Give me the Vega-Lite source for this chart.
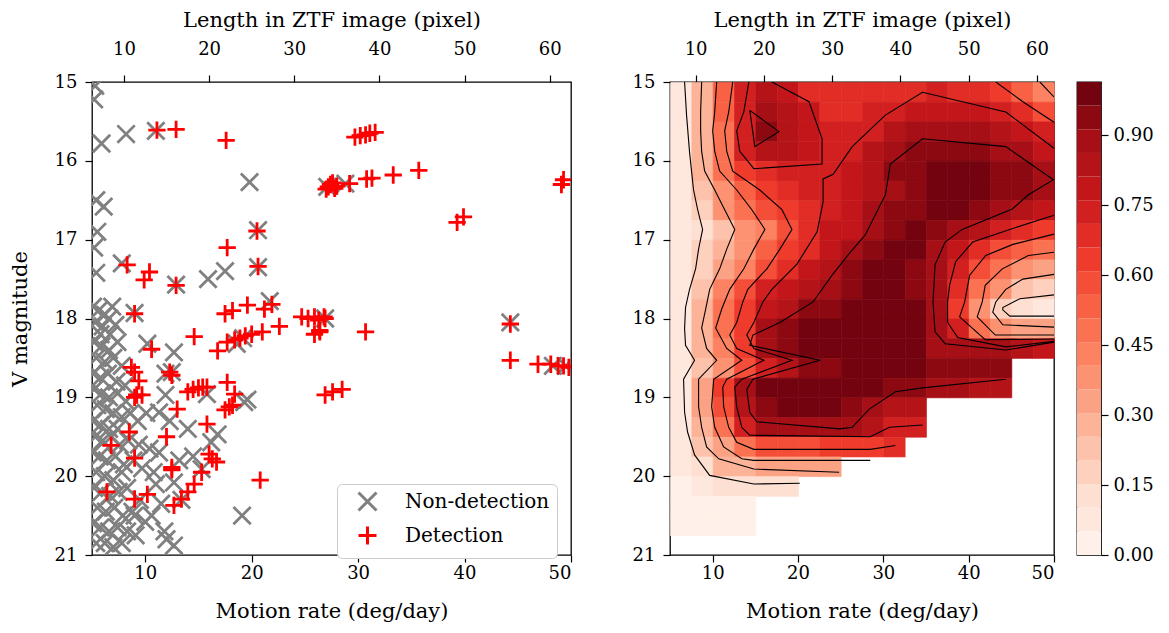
{
"$schema": "https://vega.github.io/schema/vega-lite/v6.json",
"background": "white",
"padding": {"left": 8, "top": 8, "right": 6, "bottom": 6},
"config": {
 "font": "DejaVu Serif",
 "view": {"stroke": "black", "strokeWidth": 1.3},
 "axis": {"domain": false, "grid": false, "tickColor": "black", "tickSize": 7, "tickWidth": 1.2, "labelFontSize": 18, "labelColor": "black", "labelFont": "DejaVu Serif", "titleFont": "DejaVu Serif", "titleFontSize": 21, "titleFontWeight": "normal", "titleColor": "black", "labelPadding": 2, "titlePadding": 18},
 "axisLeft": {"labelPadding": 8, "titlePadding": 24},
 "axisTop": {"labelPadding": 17, "titlePadding": 10},
 "axisRight": {"labelPadding": 5}
},
"resolve": {"scale": {"color": "independent", "shape": "independent", "stroke": "independent"}},
"spacing": 58,
"hconcat": [
{
 "width": 479, "height": 473,
 "layer": [
  {"data": {"values": [{"len": 6.25}, {"len": 62.5}]},
   "mark": {"type": "rule", "opacity": 0},
   "encoding": {"x": {"field": "len", "type": "quantitative", "scale": {"domain": [6.25, 62.5], "nice": false, "zero": false}, "axis": {"orient": "top", "values": [10,20,30,40,50,60], "format": "d", "title": "Length in ZTF image (pixel)"}}}},
  {"data": {"values": [
{"rate":5.3,"mag":15.05,"type":"Non-detection"},{"rate":5.2,"mag":15.22,"type":"Non-detection"},{"rate":5.9,"mag":15.78,"type":"Non-detection"},{"rate":8.2,"mag":15.66,"type":"Non-detection"},{"rate":11.0,"mag":15.62,"type":"Non-detection"},{"rate":19.8,"mag":16.27,"type":"Non-detection"},{"rate":27.1,"mag":16.33,"type":"Non-detection"},{"rate":28.8,"mag":16.29,"type":"Non-detection"},{"rate":5.4,"mag":16.5,"type":"Non-detection"},{"rate":6.1,"mag":16.58,"type":"Non-detection"},
{"rate":5.5,"mag":16.9,"type":"Non-detection"},{"rate":5.2,"mag":17.1,"type":"Non-detection"},{"rate":5.4,"mag":17.42,"type":"Non-detection"},{"rate":7.8,"mag":17.3,"type":"Non-detection"},{"rate":17.5,"mag":17.4,"type":"Non-detection"},{"rate":15.9,"mag":17.5,"type":"Non-detection"},{"rate":20.6,"mag":16.88,"type":"Non-detection"},{"rate":20.6,"mag":17.35,"type":"Non-detection"},{"rate":12.9,"mag":17.57,"type":"Non-detection"},{"rate":9.0,"mag":17.93,"type":"Non-detection"},
{"rate":5.1,"mag":17.85,"type":"Non-detection"},{"rate":5.6,"mag":17.9,"type":"Non-detection"},{"rate":6.2,"mag":17.95,"type":"Non-detection"},{"rate":6.9,"mag":17.85,"type":"Non-detection"},{"rate":5.3,"mag":18.05,"type":"Non-detection"},{"rate":6.0,"mag":18.1,"type":"Non-detection"},{"rate":6.6,"mag":18.0,"type":"Non-detection"},{"rate":7.2,"mag":18.08,"type":"Non-detection"},{"rate":5.8,"mag":18.2,"type":"Non-detection"},{"rate":6.7,"mag":18.2,"type":"Non-detection"},
{"rate":5.2,"mag":18.3,"type":"Non-detection"},{"rate":5.9,"mag":18.35,"type":"Non-detection"},{"rate":6.6,"mag":18.4,"type":"Non-detection"},{"rate":7.4,"mag":18.3,"type":"Non-detection"},{"rate":5.4,"mag":18.5,"type":"Non-detection"},{"rate":6.2,"mag":18.55,"type":"Non-detection"},{"rate":7.0,"mag":18.5,"type":"Non-detection"},{"rate":7.8,"mag":18.6,"type":"Non-detection"},{"rate":5.1,"mag":18.7,"type":"Non-detection"},{"rate":5.8,"mag":18.75,"type":"Non-detection"},
{"rate":6.5,"mag":18.7,"type":"Non-detection"},{"rate":7.3,"mag":18.8,"type":"Non-detection"},{"rate":8.1,"mag":18.85,"type":"Non-detection"},{"rate":5.2,"mag":18.9,"type":"Non-detection"},{"rate":5.9,"mag":18.95,"type":"Non-detection"},{"rate":6.6,"mag":19.0,"type":"Non-detection"},{"rate":7.4,"mag":18.95,"type":"Non-detection"},{"rate":8.2,"mag":19.05,"type":"Non-detection"},{"rate":5.5,"mag":19.1,"type":"Non-detection"},{"rate":6.3,"mag":19.15,"type":"Non-detection"},
{"rate":7.0,"mag":19.2,"type":"Non-detection"},{"rate":7.8,"mag":19.25,"type":"Non-detection"},{"rate":8.6,"mag":19.2,"type":"Non-detection"},{"rate":5.1,"mag":19.3,"type":"Non-detection"},{"rate":5.8,"mag":19.35,"type":"Non-detection"},{"rate":6.6,"mag":19.4,"type":"Non-detection"},{"rate":7.4,"mag":19.4,"type":"Non-detection"},{"rate":9.3,"mag":19.3,"type":"Non-detection"},{"rate":10.1,"mag":19.2,"type":"Non-detection"},{"rate":5.3,"mag":19.5,"type":"Non-detection"},
{"rate":6.0,"mag":19.55,"type":"Non-detection"},{"rate":6.8,"mag":19.5,"type":"Non-detection"},{"rate":7.6,"mag":19.6,"type":"Non-detection"},{"rate":8.4,"mag":19.55,"type":"Non-detection"},{"rate":9.4,"mag":19.6,"type":"Non-detection"},{"rate":10.4,"mag":19.65,"type":"Non-detection"},{"rate":5.1,"mag":19.7,"type":"Non-detection"},{"rate":5.7,"mag":19.75,"type":"Non-detection"},{"rate":6.4,"mag":19.8,"type":"Non-detection"},{"rate":7.2,"mag":19.75,"type":"Non-detection"},
{"rate":8.0,"mag":19.85,"type":"Non-detection"},{"rate":8.9,"mag":19.8,"type":"Non-detection"},{"rate":9.7,"mag":19.9,"type":"Non-detection"},{"rate":5.4,"mag":19.95,"type":"Non-detection"},{"rate":6.2,"mag":20.0,"type":"Non-detection"},{"rate":7.0,"mag":20.05,"type":"Non-detection"},{"rate":7.8,"mag":19.95,"type":"Non-detection"},{"rate":10.8,"mag":19.95,"type":"Non-detection"},{"rate":11.3,"mag":19.7,"type":"Non-detection"},{"rate":5.2,"mag":20.15,"type":"Non-detection"},
{"rate":5.9,"mag":20.2,"type":"Non-detection"},{"rate":6.7,"mag":20.25,"type":"Non-detection"},{"rate":7.5,"mag":20.2,"type":"Non-detection"},{"rate":8.3,"mag":20.15,"type":"Non-detection"},{"rate":9.5,"mag":20.3,"type":"Non-detection"},{"rate":5.5,"mag":20.4,"type":"Non-detection"},{"rate":6.3,"mag":20.45,"type":"Non-detection"},{"rate":7.1,"mag":20.4,"type":"Non-detection"},{"rate":7.9,"mag":20.5,"type":"Non-detection"},{"rate":8.8,"mag":20.45,"type":"Non-detection"},
{"rate":10.0,"mag":20.58,"type":"Non-detection"},{"rate":5.1,"mag":20.6,"type":"Non-detection"},{"rate":5.8,"mag":20.65,"type":"Non-detection"},{"rate":6.6,"mag":20.7,"type":"Non-detection"},{"rate":7.4,"mag":20.65,"type":"Non-detection"},{"rate":8.3,"mag":20.7,"type":"Non-detection"},{"rate":9.1,"mag":20.75,"type":"Non-detection"},{"rate":5.4,"mag":20.85,"type":"Non-detection"},{"rate":6.2,"mag":20.85,"type":"Non-detection"},{"rate":7.0,"mag":20.9,"type":"Non-detection"},
{"rate":7.8,"mag":20.85,"type":"Non-detection"},{"rate":12.0,"mag":20.8,"type":"Non-detection"},{"rate":11.8,"mag":20.7,"type":"Non-detection"},{"rate":12.7,"mag":20.88,"type":"Non-detection"},{"rate":10.6,"mag":20.5,"type":"Non-detection"},{"rate":9.0,"mag":20.5,"type":"Non-detection"},{"rate":12.7,"mag":20.08,"type":"Non-detection"},{"rate":13.4,"mag":20.3,"type":"Non-detection"},{"rate":19.1,"mag":20.5,"type":"Non-detection"},{"rate":14.0,"mag":19.4,"type":"Non-detection"},
{"rate":16.8,"mag":19.47,"type":"Non-detection"},{"rate":19.3,"mag":19.06,"type":"Non-detection"},{"rate":19.6,"mag":19.03,"type":"Non-detection"},{"rate":15.8,"mag":18.96,"type":"Non-detection"},{"rate":11.9,"mag":18.97,"type":"Non-detection"},{"rate":11.3,"mag":19.19,"type":"Non-detection"},{"rate":16.2,"mag":19.57,"type":"Non-detection"},{"rate":15.3,"mag":19.91,"type":"Non-detection"},{"rate":11.9,"mag":18.7,"type":"Non-detection"},{"rate":12.5,"mag":18.68,"type":"Non-detection"},
{"rate":12.7,"mag":18.43,"type":"Non-detection"},{"rate":10.2,"mag":18.32,"type":"Non-detection"},{"rate":19.2,"mag":18.25,"type":"Non-detection"},{"rate":18.6,"mag":18.32,"type":"Non-detection"},{"rate":21.7,"mag":17.78,"type":"Non-detection"},{"rate":26.9,"mag":18.0,"type":"Non-detection"},{"rate":44.3,"mag":18.05,"type":"Non-detection"},{"rate":48.3,"mag":18.6,"type":"Non-detection"},{"rate":49.5,"mag":18.6,"type":"Non-detection"},{"rate":12.3,"mag":19.3,"type":"Non-detection"},
{"rate":13.2,"mag":19.8,"type":"Non-detection"},{"rate":11.0,"mag":20.1,"type":"Non-detection"},{"rate":11.5,"mag":20.35,"type":"Non-detection"},{"rate":14.5,"mag":19.75,"type":"Non-detection"},
{"rate":11.1,"mag":15.61,"type":"Detection"},{"rate":12.9,"mag":15.6,"type":"Detection"},{"rate":17.6,"mag":15.74,"type":"Detection"},{"rate":27.2,"mag":16.33,"type":"Detection"},{"rate":27.4,"mag":16.3,"type":"Detection"},{"rate":27.8,"mag":16.35,"type":"Detection"},{"rate":27.6,"mag":16.28,"type":"Detection"},{"rate":28.0,"mag":16.32,"type":"Detection"},{"rate":27.0,"mag":16.36,"type":"Detection"},{"rate":29.2,"mag":16.29,"type":"Detection"},
{"rate":30.8,"mag":16.23,"type":"Detection"},{"rate":31.3,"mag":16.22,"type":"Detection"},{"rate":33.3,"mag":16.18,"type":"Detection"},{"rate":35.7,"mag":16.12,"type":"Detection"},{"rate":29.7,"mag":15.7,"type":"Detection"},{"rate":30.2,"mag":15.68,"type":"Detection"},{"rate":30.7,"mag":15.67,"type":"Detection"},{"rate":31.1,"mag":15.65,"type":"Detection"},{"rate":31.6,"mag":15.64,"type":"Detection"},{"rate":20.5,"mag":16.89,"type":"Detection"},
{"rate":17.7,"mag":17.1,"type":"Detection"},{"rate":20.6,"mag":17.34,"type":"Detection"},{"rate":8.3,"mag":17.32,"type":"Detection"},{"rate":9.9,"mag":17.51,"type":"Detection"},{"rate":10.4,"mag":17.41,"type":"Detection"},{"rate":12.9,"mag":17.58,"type":"Detection"},{"rate":39.3,"mag":16.78,"type":"Detection"},{"rate":39.9,"mag":16.71,"type":"Detection"},{"rate":49.1,"mag":16.3,"type":"Detection"},{"rate":49.3,"mag":16.24,"type":"Detection"},
{"rate":9.0,"mag":17.94,"type":"Detection"},{"rate":17.5,"mag":17.94,"type":"Detection"},{"rate":18.2,"mag":17.9,"type":"Detection"},{"rate":19.6,"mag":17.83,"type":"Detection"},{"rate":21.2,"mag":17.88,"type":"Detection"},{"rate":21.9,"mag":17.82,"type":"Detection"},{"rate":24.7,"mag":17.98,"type":"Detection"},{"rate":25.3,"mag":18.0,"type":"Detection"},{"rate":25.9,"mag":17.98,"type":"Detection"},{"rate":26.3,"mag":18.02,"type":"Detection"},
{"rate":26.8,"mag":17.98,"type":"Detection"},{"rate":25.9,"mag":18.2,"type":"Detection"},{"rate":26.4,"mag":18.15,"type":"Detection"},{"rate":22.6,"mag":18.1,"type":"Detection"},{"rate":21.0,"mag":18.17,"type":"Detection"},{"rate":14.6,"mag":18.23,"type":"Detection"},{"rate":10.6,"mag":18.39,"type":"Detection"},{"rate":16.8,"mag":18.41,"type":"Detection"},{"rate":17.7,"mag":18.3,"type":"Detection"},{"rate":18.4,"mag":18.27,"type":"Detection"},
{"rate":18.9,"mag":18.25,"type":"Detection"},{"rate":19.4,"mag":18.22,"type":"Detection"},{"rate":20.0,"mag":18.2,"type":"Detection"},{"rate":8.7,"mag":18.62,"type":"Detection"},{"rate":9.0,"mag":18.68,"type":"Detection"},{"rate":9.4,"mag":18.79,"type":"Detection"},{"rate":12.5,"mag":18.72,"type":"Detection"},{"rate":12.3,"mag":18.68,"type":"Detection"},{"rate":14.0,"mag":18.93,"type":"Detection"},{"rate":14.5,"mag":18.9,"type":"Detection"},
{"rate":15.0,"mag":18.88,"type":"Detection"},{"rate":15.4,"mag":18.87,"type":"Detection"},{"rate":15.8,"mag":18.87,"type":"Detection"},{"rate":17.7,"mag":18.81,"type":"Detection"},{"rate":18.4,"mag":18.96,"type":"Detection"},{"rate":17.5,"mag":19.16,"type":"Detection"},{"rate":17.9,"mag":19.12,"type":"Detection"},{"rate":18.2,"mag":19.1,"type":"Detection"},{"rate":9.0,"mag":19.0,"type":"Detection"},{"rate":9.2,"mag":18.97,"type":"Detection"},
{"rate":9.7,"mag":18.97,"type":"Detection"},{"rate":13.0,"mag":19.15,"type":"Detection"},{"rate":8.5,"mag":19.44,"type":"Detection"},{"rate":6.8,"mag":19.61,"type":"Detection"},{"rate":9.0,"mag":19.77,"type":"Detection"},{"rate":12.0,"mag":19.5,"type":"Detection"},{"rate":15.8,"mag":19.34,"type":"Detection"},{"rate":16.0,"mag":19.72,"type":"Detection"},{"rate":16.3,"mag":19.78,"type":"Detection"},{"rate":16.7,"mag":19.82,"type":"Detection"},
{"rate":12.5,"mag":19.89,"type":"Detection"},{"rate":12.5,"mag":19.92,"type":"Detection"},{"rate":15.3,"mag":19.95,"type":"Detection"},{"rate":14.6,"mag":20.1,"type":"Detection"},{"rate":14.0,"mag":20.2,"type":"Detection"},{"rate":13.4,"mag":20.29,"type":"Detection"},{"rate":12.7,"mag":20.37,"type":"Detection"},{"rate":20.8,"mag":20.05,"type":"Detection"},{"rate":6.4,"mag":20.2,"type":"Detection"},{"rate":9.0,"mag":20.29,"type":"Detection"},
{"rate":10.2,"mag":20.23,"type":"Detection"},{"rate":26.9,"mag":18.0,"type":"Detection"},{"rate":26.4,"mag":18.17,"type":"Detection"},{"rate":30.7,"mag":18.17,"type":"Detection"},{"rate":26.9,"mag":18.97,"type":"Detection"},{"rate":27.6,"mag":18.93,"type":"Detection"},{"rate":28.5,"mag":18.9,"type":"Detection"},{"rate":44.3,"mag":18.07,"type":"Detection"},{"rate":44.3,"mag":18.53,"type":"Detection"},{"rate":46.9,"mag":18.58,"type":"Detection"},
{"rate":48.1,"mag":18.58,"type":"Detection"},{"rate":48.8,"mag":18.6,"type":"Detection"},{"rate":49.3,"mag":18.6,"type":"Detection"},{"rate":49.8,"mag":18.62,"type":"Detection"}
  ]},
   "mark": {"type": "point", "filled": false, "strokeWidth": 2.8, "size": 300, "opacity": 1, "clip": true},
   "encoding": {
    "x": {"field": "rate", "type": "quantitative", "scale": {"domain": [5, 50], "nice": false, "zero": false}, "axis": {"values": [10,20,30,40,50], "format": "d", "title": "Motion rate (deg/day)"}},
    "y": {"field": "mag", "type": "quantitative", "scale": {"domain": [15, 21], "reverse": true, "nice": false, "zero": false}, "axis": {"values": [15,16,17,18,19,20,21], "format": "d", "title": "V magnitude"}},
    "color": {"field": "type", "type": "nominal", "scale": {"domain": ["Non-detection", "Detection"], "range": ["#808080", "#ff0000"]},
      "legend": {"title": null, "orient": "none", "legendX": 245, "legendY": 402, "fillColor": "white", "strokeColor": "#cccccc", "cornerRadius": 5, "padding": 7, "labelFontSize": 20, "labelFont": "DejaVu Serif", "labelColor": "black", "symbolSize": 324, "symbolStrokeWidth": 3, "symbolOffset": 13, "labelOffset": 27, "rowPadding": 3}},
    "shape": {"field": "type", "type": "nominal", "scale": {"domain": ["Non-detection", "Detection"], "range": ["M-1,-1L1,1M-1,1L1,-1", "M-1,0L1,0M0,-1L0,1"]},
      "legend": {"title": null, "orient": "none", "legendX": 245, "legendY": 402, "fillColor": "white", "strokeColor": "#cccccc", "cornerRadius": 5, "padding": 7, "labelFontSize": 20, "labelFont": "DejaVu Serif", "labelColor": "black", "symbolSize": 324, "symbolStrokeWidth": 3, "symbolOffset": 13, "labelOffset": 27, "rowPadding": 3}}
   }}
 ],
 "resolve": {"scale": {"x": "independent"}, "axis": {"x": "independent"}}
},
{
 "spacing": 20,
 "hconcat": [
 {
  "width": 384, "height": 473,
  "layer": [
   {"data": {"values": [{"len": 6.25}, {"len": 62.5}]},
    "mark": {"type": "rule", "opacity": 0},
    "encoding": {"x": {"field": "len", "type": "quantitative", "scale": {"domain": [6.25, 62.5], "nice": false, "zero": false}, "axis": {"orient": "top", "values": [10,20,30,40,50,60], "format": "d", "title": "Length in ZTF image (pixel)"}}}},
   {"layer": [
   {"data": {"values": [
{"x":5,"y":15,"v":0.08},{"x":7.5,"y":15,"v":0.30},{"x":10,"y":15,"v":0.52},{"x":12.5,"y":15,"v":0.72},{"x":15,"y":15,"v":0.82},{"x":17.5,"y":15,"v":0.77},{"x":20,"y":15,"v":0.70},{"x":22.5,"y":15,"v":0.68},{"x":25,"y":15,"v":0.66},{"x":27.5,"y":15,"v":0.68},{"x":30,"y":15,"v":0.69},{"x":32.5,"y":15,"v":0.70},{"x":35,"y":15,"v":0.72},{"x":37.5,"y":15,"v":0.70},{"x":40,"y":15,"v":0.69},{"x":42.5,"y":15,"v":0.62},{"x":45,"y":15,"v":0.52},{"x":47.5,"y":15,"v":0.43},
{"x":5,"y":15.25,"v":0.08},{"x":7.5,"y":15.25,"v":0.30},{"x":10,"y":15.25,"v":0.52},{"x":12.5,"y":15.25,"v":0.73},{"x":15,"y":15.25,"v":0.90},{"x":17.5,"y":15.25,"v":0.83},{"x":20,"y":15.25,"v":0.77},{"x":22.5,"y":15.25,"v":0.70},{"x":25,"y":15.25,"v":0.69},{"x":27.5,"y":15.25,"v":0.71},{"x":30,"y":15.25,"v":0.75},{"x":32.5,"y":15.25,"v":0.78},{"x":35,"y":15.25,"v":0.79},{"x":37.5,"y":15.25,"v":0.79},{"x":40,"y":15.25,"v":0.78},{"x":42.5,"y":15.25,"v":0.76},{"x":45,"y":15.25,"v":0.68},{"x":47.5,"y":15.25,"v":0.60},
{"x":5,"y":15.5,"v":0.08},{"x":7.5,"y":15.5,"v":0.30},{"x":10,"y":15.5,"v":0.50},{"x":12.5,"y":15.5,"v":0.76},{"x":15,"y":15.5,"v":0.96},{"x":17.5,"y":15.5,"v":0.86},{"x":20,"y":15.5,"v":0.80},{"x":22.5,"y":15.5,"v":0.72},{"x":25,"y":15.5,"v":0.72},{"x":27.5,"y":15.5,"v":0.76},{"x":30,"y":15.5,"v":0.82},{"x":32.5,"y":15.5,"v":0.87},{"x":35,"y":15.5,"v":0.90},{"x":37.5,"y":15.5,"v":0.88},{"x":40,"y":15.5,"v":0.87},{"x":42.5,"y":15.5,"v":0.86},{"x":45,"y":15.5,"v":0.78},{"x":47.5,"y":15.5,"v":0.74},
{"x":5,"y":15.75,"v":0.08},{"x":7.5,"y":15.75,"v":0.30},{"x":10,"y":15.75,"v":0.50},{"x":12.5,"y":15.75,"v":0.73},{"x":15,"y":15.75,"v":0.84},{"x":17.5,"y":15.75,"v":0.84},{"x":20,"y":15.75,"v":0.80},{"x":22.5,"y":15.75,"v":0.74},{"x":25,"y":15.75,"v":0.76},{"x":27.5,"y":15.75,"v":0.82},{"x":30,"y":15.75,"v":0.88},{"x":32.5,"y":15.75,"v":0.92},{"x":35,"y":15.75,"v":0.93},{"x":37.5,"y":15.75,"v":0.93},{"x":40,"y":15.75,"v":0.93},{"x":42.5,"y":15.75,"v":0.91},{"x":45,"y":15.75,"v":0.87},{"x":47.5,"y":15.75,"v":0.80},
{"x":5,"y":16,"v":0.08},{"x":7.5,"y":16,"v":0.28},{"x":10,"y":16,"v":0.47},{"x":12.5,"y":16,"v":0.63},{"x":15,"y":16,"v":0.70},{"x":17.5,"y":16,"v":0.72},{"x":20,"y":16,"v":0.73},{"x":22.5,"y":16,"v":0.75},{"x":25,"y":16,"v":0.80},{"x":27.5,"y":16,"v":0.85},{"x":30,"y":16,"v":0.92},{"x":32.5,"y":16,"v":0.96},{"x":35,"y":16,"v":0.97},{"x":37.5,"y":16,"v":0.97},{"x":40,"y":16,"v":0.97},{"x":42.5,"y":16,"v":0.96},{"x":45,"y":16,"v":0.93},{"x":47.5,"y":16,"v":0.87},
{"x":5,"y":16.25,"v":0.07},{"x":7.5,"y":16.25,"v":0.24},{"x":10,"y":16.25,"v":0.40},{"x":12.5,"y":16.25,"v":0.55},{"x":15,"y":16.25,"v":0.63},{"x":17.5,"y":16.25,"v":0.70},{"x":20,"y":16.25,"v":0.72},{"x":22.5,"y":16.25,"v":0.74},{"x":25,"y":16.25,"v":0.78},{"x":27.5,"y":16.25,"v":0.84},{"x":30,"y":16.25,"v":0.90},{"x":32.5,"y":16.25,"v":0.95},{"x":35,"y":16.25,"v":0.97},{"x":37.5,"y":16.25,"v":0.97},{"x":40,"y":16.25,"v":0.97},{"x":42.5,"y":16.25,"v":0.96},{"x":45,"y":16.25,"v":0.93},{"x":47.5,"y":16.25,"v":0.88},
{"x":5,"y":16.5,"v":0.07},{"x":7.5,"y":16.5,"v":0.20},{"x":10,"y":16.5,"v":0.36},{"x":12.5,"y":16.5,"v":0.49},{"x":15,"y":16.5,"v":0.57},{"x":17.5,"y":16.5,"v":0.62},{"x":20,"y":16.5,"v":0.68},{"x":22.5,"y":16.5,"v":0.76},{"x":25,"y":16.5,"v":0.78},{"x":27.5,"y":16.5,"v":0.88},{"x":30,"y":16.5,"v":0.92},{"x":32.5,"y":16.5,"v":0.95},{"x":35,"y":16.5,"v":0.97},{"x":37.5,"y":16.5,"v":0.97},{"x":40,"y":16.5,"v":0.95},{"x":42.5,"y":16.5,"v":0.91},{"x":45,"y":16.5,"v":0.86},{"x":47.5,"y":16.5,"v":0.78},
{"x":5,"y":16.75,"v":0.06},{"x":7.5,"y":16.75,"v":0.15},{"x":10,"y":16.75,"v":0.25},{"x":12.5,"y":16.75,"v":0.36},{"x":15,"y":16.75,"v":0.45},{"x":17.5,"y":16.75,"v":0.57},{"x":20,"y":16.75,"v":0.68},{"x":22.5,"y":16.75,"v":0.78},{"x":25,"y":16.75,"v":0.80},{"x":27.5,"y":16.75,"v":0.90},{"x":30,"y":16.75,"v":0.95},{"x":32.5,"y":16.75,"v":0.97},{"x":35,"y":16.75,"v":0.95},{"x":37.5,"y":16.75,"v":0.90},{"x":40,"y":16.75,"v":0.84},{"x":42.5,"y":16.75,"v":0.76},{"x":45,"y":16.75,"v":0.69},{"x":47.5,"y":16.75,"v":0.63},
{"x":5,"y":17,"v":0.06},{"x":7.5,"y":17,"v":0.16},{"x":10,"y":17,"v":0.28},{"x":12.5,"y":17,"v":0.40},{"x":15,"y":17,"v":0.52},{"x":17.5,"y":17,"v":0.62},{"x":20,"y":17,"v":0.70},{"x":22.5,"y":17,"v":0.80},{"x":25,"y":17,"v":0.88},{"x":27.5,"y":17,"v":0.94},{"x":30,"y":17,"v":0.97},{"x":32.5,"y":17,"v":0.97},{"x":35,"y":17,"v":0.90},{"x":37.5,"y":17,"v":0.78},{"x":40,"y":17,"v":0.68},{"x":42.5,"y":17,"v":0.60},{"x":45,"y":17,"v":0.52},{"x":47.5,"y":17,"v":0.47},
{"x":5,"y":17.25,"v":0.06},{"x":7.5,"y":17.25,"v":0.17},{"x":10,"y":17.25,"v":0.32},{"x":12.5,"y":17.25,"v":0.45},{"x":15,"y":17.25,"v":0.60},{"x":17.5,"y":17.25,"v":0.70},{"x":20,"y":17.25,"v":0.78},{"x":22.5,"y":17.25,"v":0.84},{"x":25,"y":17.25,"v":0.93},{"x":27.5,"y":17.25,"v":0.97},{"x":30,"y":17.25,"v":0.97},{"x":32.5,"y":17.25,"v":0.96},{"x":35,"y":17.25,"v":0.90},{"x":37.5,"y":17.25,"v":0.76},{"x":40,"y":17.25,"v":0.60},{"x":42.5,"y":17.25,"v":0.46},{"x":45,"y":17.25,"v":0.38},{"x":47.5,"y":17.25,"v":0.33},
{"x":5,"y":17.5,"v":0.07},{"x":7.5,"y":17.5,"v":0.22},{"x":10,"y":17.5,"v":0.41},{"x":12.5,"y":17.5,"v":0.57},{"x":15,"y":17.5,"v":0.71},{"x":17.5,"y":17.5,"v":0.80},{"x":20,"y":17.5,"v":0.86},{"x":22.5,"y":17.5,"v":0.91},{"x":25,"y":17.5,"v":0.96},{"x":27.5,"y":17.5,"v":0.97},{"x":30,"y":17.5,"v":0.97},{"x":32.5,"y":17.5,"v":0.96},{"x":35,"y":17.5,"v":0.90},{"x":37.5,"y":17.5,"v":0.68},{"x":40,"y":17.5,"v":0.50},{"x":42.5,"y":17.5,"v":0.36},{"x":45,"y":17.5,"v":0.25},{"x":47.5,"y":17.5,"v":0.17},
{"x":5,"y":17.75,"v":0.08},{"x":7.5,"y":17.75,"v":0.27},{"x":10,"y":17.75,"v":0.46},{"x":12.5,"y":17.75,"v":0.63},{"x":15,"y":17.75,"v":0.78},{"x":17.5,"y":17.75,"v":0.84},{"x":20,"y":17.75,"v":0.92},{"x":22.5,"y":17.75,"v":0.96},{"x":25,"y":17.75,"v":0.97},{"x":27.5,"y":17.75,"v":0.97},{"x":30,"y":17.75,"v":0.97},{"x":32.5,"y":17.75,"v":0.97},{"x":35,"y":17.75,"v":0.88},{"x":37.5,"y":17.75,"v":0.64},{"x":40,"y":17.75,"v":0.40},{"x":42.5,"y":17.75,"v":0.20},{"x":45,"y":17.75,"v":0.11},{"x":47.5,"y":17.75,"v":0.09},
{"x":5,"y":18,"v":0.09},{"x":7.5,"y":18,"v":0.30},{"x":10,"y":18,"v":0.48},{"x":12.5,"y":18,"v":0.65},{"x":15,"y":18,"v":0.89},{"x":17.5,"y":18,"v":0.96},{"x":20,"y":18,"v":0.97},{"x":22.5,"y":18,"v":0.97},{"x":25,"y":18,"v":0.97},{"x":27.5,"y":18,"v":0.97},{"x":30,"y":18,"v":0.97},{"x":32.5,"y":18,"v":0.97},{"x":35,"y":18,"v":0.90},{"x":37.5,"y":18,"v":0.72},{"x":40,"y":18,"v":0.50},{"x":42.5,"y":18,"v":0.38},{"x":45,"y":18,"v":0.33},{"x":47.5,"y":18,"v":0.32},
{"x":5,"y":18.25,"v":0.09},{"x":7.5,"y":18.25,"v":0.27},{"x":10,"y":18.25,"v":0.45},{"x":12.5,"y":18.25,"v":0.62},{"x":15,"y":18.25,"v":0.88},{"x":17.5,"y":18.25,"v":0.95},{"x":20,"y":18.25,"v":0.97},{"x":22.5,"y":18.25,"v":0.97},{"x":25,"y":18.25,"v":0.97},{"x":27.5,"y":18.25,"v":0.97},{"x":30,"y":18.25,"v":0.97},{"x":32.5,"y":18.25,"v":0.97},{"x":35,"y":18.25,"v":0.90},{"x":37.5,"y":18.25,"v":0.88},{"x":40,"y":18.25,"v":0.87},{"x":42.5,"y":18.25,"v":0.87},{"x":45,"y":18.25,"v":0.85},{"x":47.5,"y":18.25,"v":0.80},
{"x":5,"y":18.5,"v":0.08},{"x":7.5,"y":18.5,"v":0.25},{"x":10,"y":18.5,"v":0.39},{"x":12.5,"y":18.5,"v":0.56},{"x":15,"y":18.5,"v":0.72},{"x":17.5,"y":18.5,"v":0.86},{"x":20,"y":18.5,"v":0.93},{"x":22.5,"y":18.5,"v":0.96},{"x":25,"y":18.5,"v":0.97},{"x":27.5,"y":18.5,"v":0.97},{"x":30,"y":18.5,"v":0.97},{"x":32.5,"y":18.5,"v":0.97},{"x":35,"y":18.5,"v":0.96},{"x":37.5,"y":18.5,"v":0.96},{"x":40,"y":18.5,"v":0.95},{"x":42.5,"y":18.5,"v":0.94},
{"x":5,"y":18.75,"v":0.09},{"x":7.5,"y":18.75,"v":0.32},{"x":10,"y":18.75,"v":0.61},{"x":12.5,"y":18.75,"v":0.88},{"x":15,"y":18.75,"v":0.97},{"x":17.5,"y":18.75,"v":0.97},{"x":20,"y":18.75,"v":0.97},{"x":22.5,"y":18.75,"v":0.97},{"x":25,"y":18.75,"v":0.97},{"x":27.5,"y":18.75,"v":0.97},{"x":30,"y":18.75,"v":0.95},{"x":32.5,"y":18.75,"v":0.92},{"x":35,"y":18.75,"v":0.90},{"x":37.5,"y":18.75,"v":0.87},{"x":40,"y":18.75,"v":0.86},{"x":42.5,"y":18.75,"v":0.84},
{"x":5,"y":19,"v":0.09},{"x":7.5,"y":19,"v":0.33},{"x":10,"y":19,"v":0.60},{"x":12.5,"y":19,"v":0.84},{"x":15,"y":19,"v":0.96},{"x":17.5,"y":19,"v":0.97},{"x":20,"y":19,"v":0.97},{"x":22.5,"y":19,"v":0.97},{"x":25,"y":19,"v":0.94},{"x":27.5,"y":19,"v":0.90},{"x":30,"y":19,"v":0.85},{"x":32.5,"y":19,"v":0.82},
{"x":5,"y":19.25,"v":0.09},{"x":7.5,"y":19.25,"v":0.30},{"x":10,"y":19.25,"v":0.50},{"x":12.5,"y":19.25,"v":0.72},{"x":15,"y":19.25,"v":0.88},{"x":17.5,"y":19.25,"v":0.88},{"x":20,"y":19.25,"v":0.88},{"x":22.5,"y":19.25,"v":0.90},{"x":25,"y":19.25,"v":0.88},{"x":27.5,"y":19.25,"v":0.83},{"x":30,"y":19.25,"v":0.76},{"x":32.5,"y":19.25,"v":0.75},
{"x":5,"y":19.5,"v":0.08},{"x":7.5,"y":19.5,"v":0.22},{"x":10,"y":19.5,"v":0.35},{"x":12.5,"y":19.5,"v":0.50},{"x":15,"y":19.5,"v":0.58},{"x":17.5,"y":19.5,"v":0.60},{"x":20,"y":19.5,"v":0.60},{"x":22.5,"y":19.5,"v":0.61},{"x":25,"y":19.5,"v":0.63},{"x":27.5,"y":19.5,"v":0.63},{"x":30,"y":19.5,"v":0.66},
{"x":5,"y":19.75,"v":0.06},{"x":7.5,"y":19.75,"v":0.14},{"x":10,"y":19.75,"v":0.28},{"x":12.5,"y":19.75,"v":0.30},{"x":15,"y":19.75,"v":0.35},{"x":17.5,"y":19.75,"v":0.35},{"x":20,"y":19.75,"v":0.35},{"x":22.5,"y":19.75,"v":0.35},
{"x":5,"y":20,"v":0.04},{"x":7.5,"y":20,"v":0.08},{"x":10,"y":20,"v":0.11},{"x":12.5,"y":20,"v":0.12},{"x":15,"y":20,"v":0.12},{"x":17.5,"y":20,"v":0.12},
{"x":5,"y":20.25,"v":0.03},{"x":7.5,"y":20.25,"v":0.05},{"x":10,"y":20.25,"v":0.05},{"x":12.5,"y":20.25,"v":0.05},
{"x":5,"y":20.5,"v":0.02},{"x":7.5,"y":20.5,"v":0.03},{"x":10,"y":20.5,"v":0.03},{"x":12.5,"y":20.5,"v":0.03}
   ]},
    "mark": {"type": "rect", "binSpacing": 0, "strokeWidth": 0.6},
    "encoding": {
     "x": {"field": "x", "type": "quantitative", "bin": {"binned": true, "step": 2.5}, "scale": {"domain": [5, 50], "nice": false, "zero": false}, "axis": {"values": [10,20,30,40,50], "format": "d", "title": "Motion rate (deg/day)"}},
     "y": {"field": "y", "type": "quantitative", "bin": {"binned": true, "step": 0.25}, "scale": {"domain": [15, 21], "reverse": true, "nice": false, "zero": false}, "axis": {"values": [15,16,17,18,19,20,21], "format": "d", "title": null}},
     "color": {"field": "v", "type": "quantitative", "scale": {"type": "quantize", "domain": [0, 1.014], "nice": false, "range": ["#fff1ea","#fee8de","#fee0d2","#fdd1be","#fcc2ab","#fcb398","#fca284","#fc9272","#fc8262","#fb7252","#f96144","#f44e38","#ef3b2c","#e12d26","#d21f1f","#c3161b","#b41318","#a50f15","#8c0912","#73030f"]}, "legend": null},
     "stroke": {"field": "v", "type": "quantitative", "scale": {"type": "quantize", "domain": [0, 1.014], "nice": false, "range": ["#fff1ea","#fee8de","#fee0d2","#fdd1be","#fcc2ab","#fcb398","#fca284","#fc9272","#fc8262","#fb7252","#f96144","#f44e38","#ef3b2c","#e12d26","#d21f1f","#c3161b","#b41318","#a50f15","#8c0912","#73030f"]}, "legend": null}
    }},
   {"data": {"values": [
{"seg":"A","o":1,"x":6.71,"y":15.0},{"seg":"A","o":2,"x":6.94,"y":15.42},{"seg":"A","o":3,"x":7.29,"y":15.89},{"seg":"A","o":4,"x":7.76,"y":16.37},{"seg":"A","o":5,"x":8.24,"y":16.62},{"seg":"A","o":6,"x":8.82,"y":16.87},{"seg":"A","o":7,"x":8.35,"y":17.12},{"seg":"A","o":8,"x":8.0,"y":17.37},{"seg":"A","o":9,"x":7.29,"y":17.63},{"seg":"A","o":10,"x":6.82,"y":17.86},{"seg":"A","o":11,"x":6.71,"y":18.13},{"seg":"A","o":12,"x":6.82,"y":18.34},{"seg":"A","o":13,"x":7.88,"y":18.53},{"seg":"A","o":14,"x":6.59,"y":18.77},{"seg":"A","o":15,"x":6.71,"y":19.19},{"seg":"A","o":16,"x":7.06,"y":19.44},{"seg":"A","o":17,"x":7.88,"y":19.73},{"seg":"A","o":18,"x":9.65,"y":19.99},{"seg":"A","o":19,"x":14.82,"y":20.1},{"seg":"A","o":20,"x":20.21,"y":20.09},
{"seg":"B","o":1,"x":8.71,"y":15.0},{"seg":"B","o":2,"x":8.59,"y":15.38},{"seg":"B","o":3,"x":8.59,"y":15.62},{"seg":"B","o":4,"x":8.71,"y":15.88},{"seg":"B","o":5,"x":9.06,"y":16.13},{"seg":"B","o":6,"x":10.24,"y":16.37},{"seg":"B","o":7,"x":11.41,"y":16.62},{"seg":"B","o":8,"x":12.59,"y":16.87},{"seg":"B","o":9,"x":11.65,"y":17.12},{"seg":"B","o":10,"x":10.82,"y":17.37},{"seg":"B","o":11,"x":9.65,"y":17.63},{"seg":"B","o":12,"x":9.18,"y":17.88},{"seg":"B","o":13,"x":8.71,"y":18.12},{"seg":"B","o":14,"x":9.29,"y":18.38},{"seg":"B","o":15,"x":10.47,"y":18.53},{"seg":"B","o":16,"x":8.35,"y":18.77},{"seg":"B","o":17,"x":8.35,"y":19.12},{"seg":"B","o":18,"x":8.71,"y":19.38},{"seg":"B","o":19,"x":9.29,"y":19.63},{"seg":"B","o":20,"x":10.71,"y":19.78},{"seg":"B","o":21,"x":14.82,"y":19.91},{"seg":"B","o":22,"x":24.82,"y":19.95},
{"seg":"C","o":1,"x":10.47,"y":15.0},{"seg":"C","o":2,"x":10.24,"y":15.38},{"seg":"C","o":3,"x":10.0,"y":15.62},{"seg":"C","o":4,"x":10.24,"y":15.88},{"seg":"C","o":5,"x":10.82,"y":16.13},{"seg":"C","o":6,"x":12.82,"y":16.37},{"seg":"C","o":7,"x":14.59,"y":16.62},{"seg":"C","o":8,"x":16.12,"y":16.87},{"seg":"C","o":9,"x":14.82,"y":17.12},{"seg":"C","o":10,"x":13.65,"y":17.37},{"seg":"C","o":11,"x":12.0,"y":17.63},{"seg":"C","o":12,"x":11.06,"y":17.88},{"seg":"C","o":13,"x":10.35,"y":18.12},{"seg":"C","o":14,"x":11.65,"y":18.38},{"seg":"C","o":15,"x":13.41,"y":18.53},{"seg":"C","o":16,"x":10.12,"y":18.77},{"seg":"C","o":17,"x":9.88,"y":19.12},{"seg":"C","o":18,"x":10.24,"y":19.38},{"seg":"C","o":19,"x":11.29,"y":19.63},{"seg":"C","o":20,"x":13.41,"y":19.78},{"seg":"C","o":21,"x":14.82,"y":19.8},{"seg":"C","o":22,"x":28.47,"y":19.8},
{"seg":"D","o":1,"x":12.35,"y":15.0},{"seg":"D","o":2,"x":11.88,"y":15.38},{"seg":"D","o":3,"x":11.41,"y":15.62},{"seg":"D","o":4,"x":11.65,"y":15.88},{"seg":"D","o":5,"x":12.35,"y":16.13},{"seg":"D","o":6,"x":15.53,"y":16.37},{"seg":"D","o":7,"x":18.12,"y":16.62},{"seg":"D","o":8,"x":19.29,"y":16.87},{"seg":"D","o":9,"x":17.88,"y":17.12},{"seg":"D","o":10,"x":16.35,"y":17.37},{"seg":"D","o":11,"x":14.12,"y":17.63},{"seg":"D","o":12,"x":13.53,"y":17.79},{"seg":"D","o":13,"x":12.82,"y":18.05},{"seg":"D","o":14,"x":12.0,"y":18.21},{"seg":"D","o":15,"x":12.82,"y":18.38},{"seg":"D","o":16,"x":16.0,"y":18.53},{"seg":"D","o":17,"x":11.65,"y":18.77},{"seg":"D","o":18,"x":11.18,"y":18.87},{"seg":"D","o":19,"x":11.29,"y":19.12},{"seg":"D","o":20,"x":11.88,"y":19.38},{"seg":"D","o":21,"x":12.82,"y":19.57},{"seg":"D","o":22,"x":14.82,"y":19.66},{"seg":"D","o":23,"x":28.47,"y":19.66},{"seg":"D","o":24,"x":31.41,"y":19.61},
{"seg":"E","o":1,"x":50.0,"y":15.84},{"seg":"E","o":2,"x":44.35,"y":15.38},{"seg":"E","o":3,"x":34.59,"y":15.13},{"seg":"E","o":4,"x":30.24,"y":15.42},{"seg":"E","o":5,"x":26.35,"y":15.82},{"seg":"E","o":6,"x":24.12,"y":16.17},{"seg":"E","o":7,"x":22.94,"y":16.23},{"seg":"E","o":8,"x":22.94,"y":16.52},{"seg":"E","o":9,"x":22.24,"y":16.9},{"seg":"E","o":10,"x":19.88,"y":17.31},{"seg":"E","o":11,"x":16.94,"y":17.63},{"seg":"E","o":12,"x":15.88,"y":17.79},{"seg":"E","o":13,"x":14.82,"y":18.05},{"seg":"E","o":14,"x":14.0,"y":18.21},{"seg":"E","o":15,"x":14.82,"y":18.38},{"seg":"E","o":16,"x":19.29,"y":18.53},{"seg":"E","o":17,"x":13.41,"y":18.77},{"seg":"E","o":18,"x":12.59,"y":18.87},{"seg":"E","o":19,"x":12.82,"y":19.12},{"seg":"E","o":20,"x":13.41,"y":19.38},{"seg":"E","o":21,"x":14.35,"y":19.48},{"seg":"E","o":22,"x":28.47,"y":19.5},{"seg":"E","o":23,"x":30.71,"y":19.38},{"seg":"E","o":24,"x":34.59,"y":19.35},
{"seg":"F","o":1,"x":44.35,"y":18.77},{"seg":"F","o":2,"x":34.59,"y":18.88},{"seg":"F","o":3,"x":31.41,"y":18.93},{"seg":"F","o":4,"x":28.35,"y":19.15},{"seg":"F","o":5,"x":26.35,"y":19.38},{"seg":"F","o":6,"x":24.94,"y":19.4},{"seg":"F","o":7,"x":15.18,"y":19.31},{"seg":"F","o":8,"x":14.35,"y":19.19},{"seg":"F","o":9,"x":14.0,"y":18.9},{"seg":"F","o":10,"x":14.71,"y":18.77},{"seg":"F","o":11,"x":22.59,"y":18.53},{"seg":"F","o":12,"x":14.35,"y":18.34},{"seg":"F","o":13,"x":14.71,"y":18.21},{"seg":"F","o":14,"x":17.88,"y":18.05},{"seg":"F","o":15,"x":21.76,"y":17.79},{"seg":"F","o":16,"x":24.0,"y":17.45},{"seg":"F","o":17,"x":26.12,"y":17.16},{"seg":"F","o":18,"x":27.88,"y":16.94},{"seg":"F","o":19,"x":30.24,"y":16.43},{"seg":"F","o":20,"x":30.82,"y":16.04},{"seg":"F","o":21,"x":34.59,"y":15.72},{"seg":"F","o":22,"x":44.35,"y":15.82},{"seg":"F","o":23,"x":49.94,"y":16.24},{"seg":"F","o":24,"x":47.0,"y":16.43},{"seg":"F","o":25,"x":45.12,"y":16.61},{"seg":"F","o":26,"x":39.24,"y":16.87},{"seg":"F","o":27,"x":37.24,"y":17.03},{"seg":"F","o":28,"x":36.06,"y":17.32},{"seg":"F","o":29,"x":35.82,"y":17.79},{"seg":"F","o":30,"x":36.06,"y":18.17},{"seg":"F","o":31,"x":37.24,"y":18.32},{"seg":"F","o":32,"x":44.35,"y":18.4},{"seg":"F","o":33,"x":50.0,"y":18.3},
{"seg":"H","o":1,"x":14.24,"y":15.0},{"seg":"H","o":2,"x":13.65,"y":15.38},{"seg":"H","o":3,"x":12.82,"y":15.62},{"seg":"H","o":4,"x":13.18,"y":15.88},{"seg":"H","o":5,"x":14.82,"y":16.1},{"seg":"H","o":6,"x":22.82,"y":16.04},{"seg":"H","o":7,"x":22.82,"y":15.72},{"seg":"H","o":8,"x":21.29,"y":15.25},{"seg":"H","o":9,"x":16.94,"y":15.0},
{"seg":"I","o":1,"x":14.35,"y":15.36},{"seg":"I","o":2,"x":17.76,"y":15.63},{"seg":"I","o":3,"x":14.94,"y":15.82},{"seg":"I","o":4,"x":14.35,"y":15.36},
{"seg":"K1","o":1,"x":50.0,"y":17.7},{"seg":"K1","o":2,"x":46.0,"y":17.75},{"seg":"K1","o":3,"x":44.0,"y":17.86},{"seg":"K1","o":4,"x":44.0,"y":17.89},{"seg":"K1","o":5,"x":44.82,"y":17.97},{"seg":"K1","o":6,"x":50.0,"y":17.97},
{"seg":"K2","o":1,"x":50.0,"y":17.44},{"seg":"K2","o":2,"x":46.35,"y":17.5},{"seg":"K2","o":3,"x":44.35,"y":17.63},{"seg":"K2","o":4,"x":43.18,"y":17.79},{"seg":"K2","o":5,"x":42.82,"y":17.92},{"seg":"K2","o":6,"x":44.0,"y":18.08},{"seg":"K2","o":7,"x":50.0,"y":18.11},
{"seg":"K3","o":1,"x":50.0,"y":17.16},{"seg":"K3","o":2,"x":47.0,"y":17.2},{"seg":"K3","o":3,"x":43.94,"y":17.37},{"seg":"K3","o":4,"x":41.94,"y":17.58},{"seg":"K3","o":5,"x":41.59,"y":17.79},{"seg":"K3","o":6,"x":41.0,"y":17.98},{"seg":"K3","o":7,"x":43.12,"y":18.21},{"seg":"K3","o":8,"x":50.0,"y":18.21},
{"seg":"K4","o":1,"x":50.0,"y":16.93},{"seg":"K4","o":2,"x":45.18,"y":17.06},{"seg":"K4","o":3,"x":42.0,"y":17.2},{"seg":"K4","o":4,"x":40.12,"y":17.45},{"seg":"K4","o":5,"x":39.53,"y":17.79},{"seg":"K4","o":6,"x":38.94,"y":17.98},{"seg":"K4","o":7,"x":41.94,"y":18.27},{"seg":"K4","o":8,"x":50.0,"y":18.26},
{"seg":"K5","o":1,"x":50.0,"y":16.69},{"seg":"K5","o":2,"x":44.82,"y":16.87},{"seg":"K5","o":3,"x":40.47,"y":17.03},{"seg":"K5","o":4,"x":38.47,"y":17.28},{"seg":"K5","o":5,"x":37.76,"y":17.58},{"seg":"K5","o":6,"x":37.53,"y":17.79},{"seg":"K5","o":7,"x":37.53,"y":18.05},{"seg":"K5","o":8,"x":38.71,"y":18.24},{"seg":"K5","o":9,"x":44.35,"y":18.36},{"seg":"K5","o":10,"x":50.0,"y":18.29},
{"seg":"T1","o":1,"x":43.18,"y":15.0},{"seg":"T1","o":2,"x":46.35,"y":15.25},{"seg":"T1","o":3,"x":50.0,"y":15.51},
{"seg":"T2","o":1,"x":48.35,"y":15.0},{"seg":"T2","o":2,"x":50.0,"y":15.19}
   ]},
    "mark": {"type": "line", "color": "black", "strokeWidth": 1.1, "clip": true},
    "encoding": {
     "x": {"field": "x", "type": "quantitative", "axis": {"values": [10,20,30,40,50], "format": "d", "title": "Motion rate (deg/day)"}},
     "y": {"field": "y", "type": "quantitative", "axis": {"values": [15,16,17,18,19,20,21], "format": "d", "title": null}},
     "detail": {"field": "seg", "type": "nominal"},
     "order": {"field": "o", "type": "quantitative"}
    }}
   ]}
  ],
  "resolve": {"scale": {"x": "independent"}, "axis": {"x": "independent"}}
 },
 {
  "width": 24, "height": 473,
  "data": {"values": [
{"lo":0,"hi":0.0507,"mid":0.025},{"lo":0.0507,"hi":0.1014,"mid":0.076},{"lo":0.1014,"hi":0.1521,"mid":0.127},{"lo":0.1521,"hi":0.2028,"mid":0.177},{"lo":0.2028,"hi":0.2535,"mid":0.228},
{"lo":0.2535,"hi":0.3042,"mid":0.279},{"lo":0.3042,"hi":0.3549,"mid":0.33},{"lo":0.3549,"hi":0.4056,"mid":0.38},{"lo":0.4056,"hi":0.4563,"mid":0.431},{"lo":0.4563,"hi":0.507,"mid":0.482},
{"lo":0.507,"hi":0.5577,"mid":0.532},{"lo":0.5577,"hi":0.6084,"mid":0.583},{"lo":0.6084,"hi":0.6591,"mid":0.634},{"lo":0.6591,"hi":0.7098,"mid":0.684},{"lo":0.7098,"hi":0.7605,"mid":0.735},
{"lo":0.7605,"hi":0.8112,"mid":0.786},{"lo":0.8112,"hi":0.8619,"mid":0.837},{"lo":0.8619,"hi":0.9126,"mid":0.887},{"lo":0.9126,"hi":0.9633,"mid":0.938},{"lo":0.9633,"hi":1.014,"mid":0.989}
  ]},
  "mark": {"type": "rect"},
  "encoding": {
   "y": {"field": "lo", "type": "quantitative", "scale": {"domain": [0, 1.014], "nice": false, "zero": false}, "axis": {"orient": "right", "values": [0,0.15,0.3,0.45,0.6,0.75,0.9], "format": ".2f", "title": null}},
   "y2": {"field": "hi"},
   "color": {"field": "mid", "type": "quantitative", "scale": {"type": "quantize", "domain": [0, 1.014], "nice": false, "range": ["#fff1ea","#fee8de","#fee0d2","#fdd1be","#fcc2ab","#fcb398","#fca284","#fc9272","#fc8262","#fb7252","#f96144","#f44e38","#ef3b2c","#e12d26","#d21f1f","#c3161b","#b41318","#a50f15","#8c0912","#73030f"]}, "legend": null}
  }
 }
 ]
}
]
}
